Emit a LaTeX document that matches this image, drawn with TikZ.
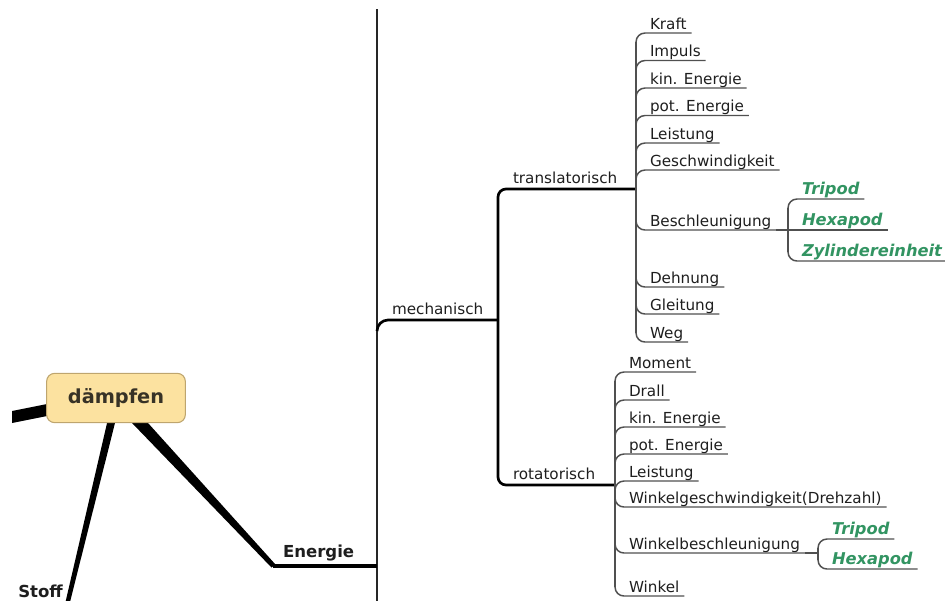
\documentclass[tikz,border=0pt]{standalone}
\usepackage{fontspec}
\setmainfont{DejaVu Sans}[BoldFont={DejaVu Sans Bold},ItalicFont={DejaVu Sans Oblique},BoldItalicFont={DejaVu Sans Bold Oblique}]
\usetikzlibrary{calc}
\definecolor{boxfill}{RGB}{252,226,160}
\definecolor{boxdraw}{RGB}{190,165,110}
\definecolor{grn}{RGB}{50,148,98}
\definecolor{txt}{RGB}{30,30,30}
\definecolor{leafgray}{RGB}{80,80,80}
\newcommand{\leaffont}{\fontsize{11.4pt}{13pt}\selectfont}
\newcommand{\greenfont}{\fontsize{12.2pt}{14pt}\selectfont\bfseries\itshape}
\newcommand{\bigboldfont}{\fontsize{12.4pt}{14pt}\selectfont\bfseries}
\newcommand{\leafup}[1]{\draw[leafline] ($(#1.south west)+(-9,9)$) .. controls +(0,-5) and +(-5,0) .. (#1.south west) -- (#1.south east);}
\newcommand{\leafdown}[1]{\draw[leafline] ($(#1.south west)+(-9,-9)$) .. controls +(0,5) and +(-5,0) .. (#1.south west) -- (#1.south east);}
\begin{document}
\begin{tikzpicture}[x=0.75pt,y=-0.75pt,
  leafline/.style={draw=leafgray,line width=1.1pt},
  brline/.style={draw=black,line width=2pt},
  mainv/.style={draw=black!85,line width=1.4pt},
  leaf/.style={anchor=south west,font=\leaffont,text=txt,inner xsep=3.75pt,inner ysep=3pt,text depth=0pt,outer sep=0pt},
  gleaf/.style={leaf,font=\greenfont,text=grn,inner ysep=3.75pt},
  brnode/.style={leaf,inner ysep=4.5pt},
  centre/.style={draw=boxdraw,fill=boxfill,rounded corners=6pt,line width=0.8pt,minimum width=104pt,minimum height=37pt,font=\fontsize{14.5pt}{16pt}\selectfont\bfseries,text={rgb,255:red,55;green,50;blue,38},inner sep=0pt}
]
\useasboundingbox (0,0) rectangle (945,600);

% tapered thick limbs from the central topic
\fill[black] (12,411) -- (52,403) -- (52,415) -- (12,423) -- cycle;
\fill[black] (108.9,415) -- (117,415) -- (70,602) -- (65.5,602) -- cycle;
\fill[black] (124.3,415) -- (140.8,415) -- (275.5,564.5) -- (271.5,567.5) -- cycle;

\node[centre] (daempfen) at (116,398) {dämpfen};
\node[anchor=base west,font=\bigboldfont,text=txt,inner sep=0pt] (stoff) at (18,597) {Stoff};

% main vertical and Energie
\coordinate (vtop) at (377,9);
\coordinate (vbot) at (377,602);
\draw[mainv] (vtop) -- (vbot);
\coordinate (etip) at (273,566);
\coordinate (ej) at (377,566);
\draw[brline,line width=2.3pt] (etip) -- (ej);
\node[anchor=south west,font=\bigboldfont,text=txt,inner xsep=3pt,inner ysep=6.75pt,text depth=0pt,outer sep=0pt] (energie) at (279,566) {Energie};

% mechanisch branch
\coordinate (mj) at (498,320);
\coordinate (tj) at (636,189);
\coordinate (rj) at (615,485);
\node[brnode,inner xsep=3pt] (mech) at (388,320) {mechanisch};
\draw[brline] ($(mech.south west)+(-11,11)$) .. controls +(0,-6) and +(-6,0) .. (mech.south west) -- (mj);
\draw[brline,rounded corners=6pt] (tj) -| (mj) |- (rj);
\node[brnode] (trans) at (508,189) {translatorisch};
\node[brnode] (rot) at (508,485) {rotatorisch};

% translatorisch leaves
\node[leaf] (kraft)  at (645,33)    {Kraft};
\node[leaf] (impuls) at (645,60.5)  {Impuls};
\node[leaf] (kint)   at (645,88)    {kin. Energie};
\node[leaf] (pott)   at (645,115.5) {pot. Energie};
\node[leaf] (leistt) at (645,143)   {Leistung};
\node[leaf] (geschw) at (645,170)   {Geschwindigkeit};
\node[leaf] (beschl) at (645,230)   {Beschleunigung};
\node[leaf] (dehn)   at (645,287)   {Dehnung};
\node[leaf] (gleit)  at (645,314)   {Gleitung};
\node[leaf] (weg)    at (645,342)   {Weg};
\draw[leafline] ($(kraft.south west)+(-9,9)$) -- ($(weg.south west)+(-9,-9)$);
\leafup{kraft}\leafup{impuls}\leafup{kint}\leafup{pott}\leafup{leistt}\leafup{geschw}
\leafdown{beschl}\leafdown{dehn}\leafdown{gleit}\leafdown{weg}

% green under Beschleunigung
\coordinate (gja) at (788,230);
\node[gleaf] (tria) at (797,199) {Tripod};
\node[gleaf] (hexa) at (797,230) {Hexapod};
\node[gleaf] (zyl)  at (797,261) {Zylindereinheit};
\draw[leafline] (beschl.south east) -- (gja);
\draw[leafline] ($(tria.south west)+(-9,9)$) -- ($(zyl.south west)+(-9,-9)$);
\leafup{tria}
\draw[leafline] (gja) -- (hexa.south west) -- (hexa.south east);
\leafdown{zyl}

% rotatorisch leaves
\node[leaf] (moment) at (624,372) {Moment};
\node[leaf] (drall)  at (624,400) {Drall};
\node[leaf] (kinr)   at (624,427) {kin. Energie};
\node[leaf] (potr)   at (624,454) {pot. Energie};
\node[leaf] (leistr) at (624,481) {Leistung};
\node[leaf] (wgesch) at (624,507) {Winkelgeschwindigkeit(Drehzahl)};
\node[leaf] (wbesch) at (624,553) {Winkelbeschleunigung};
\node[leaf] (winkel) at (624,596) {Winkel};
\draw[leafline] ($(moment.south west)+(-9,9)$) -- ($(winkel.south west)+(-9,-9)$);
\leafup{moment}\leafup{drall}\leafup{kinr}\leafup{potr}\leafup{leistr}
\leafdown{wgesch}\leafdown{wbesch}\leafdown{winkel}

% green under Winkelbeschleunigung
\coordinate (gjb) at (818,553);
\node[gleaf] (trib) at (827,539) {Tripod};
\node[gleaf] (hexb) at (827,569) {Hexapod};
\draw[leafline] (wbesch.south east) -- (gjb);
\draw[leafline] ($(trib.south west)+(-9,9)$) -- ($(hexb.south west)+(-9,-9)$);
\leafup{trib}\leafdown{hexb}
\end{tikzpicture}
\end{document}
